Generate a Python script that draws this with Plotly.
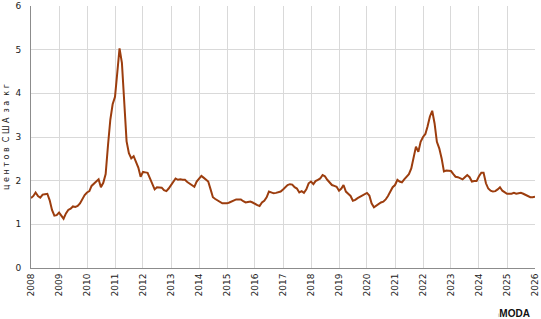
import plotly.graph_objects as go

dates = [f"{y}-{m:02d}-01" for y in range(2008, 2026) for m in range(1, 13)] + ["2026-01-01"]

values = [
    1.60, 1.65, 1.73, 1.65, 1.61, 1.68, 1.69, 1.70, 1.55, 1.33, 1.20, 1.21,  # 2008
    1.27, 1.20, 1.13, 1.25, 1.33, 1.36, 1.41, 1.40, 1.42, 1.48, 1.58, 1.67,  # 2009
    1.73, 1.76, 1.88, 1.94, 1.98, 2.03, 1.85, 1.95, 2.15, 2.80, 3.40, 3.75,  # 2010
    3.92, 4.50, 5.03, 4.70, 3.69, 2.90, 2.63, 2.51, 2.56, 2.42, 2.30, 2.09,  # 2011
    2.20, 2.19, 2.18, 2.05, 1.92, 1.80, 1.85, 1.85, 1.84, 1.78, 1.76, 1.82,  # 2012
    1.90, 1.96, 2.05, 2.02, 2.03, 2.02, 2.02, 1.97, 1.93, 1.88, 1.86, 1.98,  # 2013
    2.05, 2.11, 2.07, 2.02, 1.98, 1.80, 1.62, 1.58, 1.54, 1.50, 1.48, 1.48,  # 2014
    1.48, 1.50, 1.52, 1.55, 1.57, 1.57, 1.57, 1.53, 1.50, 1.51, 1.52, 1.50,  # 2015
    1.46, 1.44, 1.42, 1.50, 1.54, 1.62, 1.75, 1.73, 1.71, 1.72, 1.73, 1.75,  # 2016
    1.80, 1.86, 1.90, 1.92, 1.91, 1.85, 1.82, 1.73, 1.76, 1.72, 1.80, 1.94,  # 2017
    1.98, 1.92, 1.99, 2.02, 2.05, 2.13, 2.10, 2.02, 1.95, 1.90, 1.88, 1.86,  # 2018
    1.77, 1.82, 1.90, 1.75, 1.70, 1.65, 1.54, 1.56, 1.60, 1.63, 1.66, 1.70,  # 2019
    1.72, 1.66, 1.48, 1.39, 1.43, 1.47, 1.50, 1.52, 1.57, 1.65, 1.75, 1.85,  # 2020
    1.90, 2.02, 1.98, 1.96, 2.03, 2.08, 2.15, 2.28, 2.51, 2.78, 2.66, 2.89,  # 2021
    3.00, 3.07, 3.24, 3.47, 3.60, 3.31, 2.89, 2.74, 2.51, 2.21, 2.23, 2.22,  # 2022
    2.22, 2.15, 2.09, 2.08, 2.06, 2.03, 2.08, 2.13, 2.08, 1.98, 1.99, 1.99,  # 2023
    2.10, 2.18, 2.18, 1.94, 1.82, 1.77, 1.75, 1.76, 1.80, 1.85, 1.77, 1.73,  # 2024
    1.70, 1.70, 1.70, 1.72, 1.70, 1.71, 1.72, 1.70, 1.67, 1.65, 1.62, 1.62,  # 2025
    1.63,  # 2026
]

y_title = "ц е н т о в  С Ш А  з а  к г"
x_range = ["2008-01-01", "2026-01-01"]
y_range = [0, 6]

fig = go.Figure()
fig.add_trace(go.Scatter(
    x=dates, y=values, mode="lines",
    line=dict(color="#9C3D0E", width=2),
    hoverinfo="skip", showlegend=False,
))

font = "DejaVu Sans, Verdana, sans-serif"
fig.update_layout(
    width=541, height=319,
    margin=dict(l=31, r=6, t=6, b=51, autoexpand=False),
    paper_bgcolor="white", plot_bgcolor="white",
    font=dict(family=font, size=9, color="#222222"),
    showlegend=False,
    xaxis=dict(
        type="date", range=x_range, dtick="M12", tick0="2008-01-01",
        tickformat="%Y", tickangle=-90, automargin=False,
        showgrid=True, gridcolor="#d9d9d9", gridwidth=1,
        showline=True, linecolor="#8c8c8c", linewidth=1,
        ticks="", ticklabelstandoff=1, zeroline=False,
        tickfont=dict(size=9, color="#222222"),
    ),
    yaxis=dict(
        range=y_range, dtick=1, tick0=0, automargin=False,
        showgrid=True, gridcolor="#d9d9d9", gridwidth=1,
        showline=True, linecolor="#8c8c8c", linewidth=1,
        ticks="", ticklabelstandoff=7, zeroline=False,
        tickfont=dict(size=9, color="#222222"),
        title=dict(text=y_title, font=dict(size=8, color="#222222"), standoff=4),
    ),
)

fig.add_annotation(
    xref="paper", yref="paper", x=0.993, y=-0.172, xanchor="right", yanchor="middle",
    text="<span style='color:#9a9a9a;font-size:6px'>i</span><b>MODA</b>",
    showarrow=False, font=dict(family="Liberation Sans, Arial", size=10, color="#111111"),
    borderpad=0,
)

fig.write_html("out.html")
